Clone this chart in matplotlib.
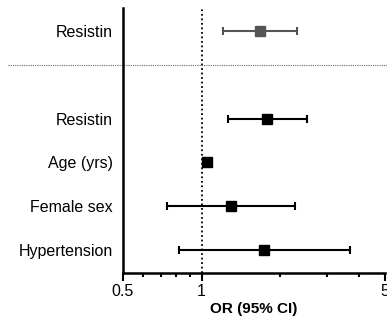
import matplotlib
matplotlib.use("Agg")
import matplotlib.pyplot as plt
import matplotlib.transforms as mtransforms
from matplotlib.ticker import FixedLocator, NullFormatter

plt.rcParams['font.family'] = ['Liberation Sans', 'DejaVu Sans']

labels = ["Resistin", "Resistin", "Age (yrs)", "Female sex", "Hypertension"]
ypos = [5, 3, 2, 1, 0]
odds = [1.67, 1.78, 1.05, 1.29, 1.73]
lower = [1.21, 1.26, 1.03, 0.736, 0.82]
upper = [2.31, 2.53, 1.07, 2.27, 3.69]
colors = ["#555555", "black", "black", "black", "black"]
sep_y = 4.22

fig = plt.figure(figsize=(3.87, 3.2), dpi=100)
ax = fig.add_axes([0.317, 0.147, 0.677, 0.828])

for y, o, lo, hi, c in zip(ypos, odds, lower, upper, colors):
    ax.errorbar([o], [y], xerr=[[o - lo], [hi - o]], fmt='s', color=c,
                ecolor=c, markersize=7.5, elinewidth=1.5, capsize=3.2,
                capthick=1.5, zorder=3)

ax.axvline(1, color='black', linestyle=(0, (1, 1.5)), linewidth=1.3, zorder=1)

trans = mtransforms.blended_transform_factory(fig.transFigure, ax.transData)
ax.plot([8 / 387, 1.0], [sep_y, sep_y], transform=trans, clip_on=False,
        color='#666666', linestyle=(0, (1, 1)), linewidth=0.8)

ax.set_xscale('log')
ax.set_xlim(0.5, 5)
ax.set_ylim(-0.53, 5.53)

ax.xaxis.set_major_locator(FixedLocator([0.5, 1, 5]))
ax.set_xticklabels(["0.5", "1", "5"])
ax.xaxis.set_minor_locator(FixedLocator([0.6, 0.7, 0.8, 0.9, 2, 3, 4]))
ax.xaxis.set_minor_formatter(NullFormatter())
ax.tick_params(axis='x', which='major', length=6, width=1.5, labelsize=11.5, pad=2)
ax.tick_params(axis='x', which='minor', length=3, width=1.5)

ax.set_yticks(ypos)
ax.set_yticklabels(labels, fontsize=11.5)
ax.tick_params(axis='y', length=0, pad=7)

for s in ['top', 'right']:
    ax.spines[s].set_visible(False)
for s in ['left', 'bottom']:
    ax.spines[s].set_linewidth(1.8)

ax.set_xlabel("OR (95% CI)", fontsize=11, fontweight='bold', labelpad=2)

fig.savefig("out.png", dpi=100)
